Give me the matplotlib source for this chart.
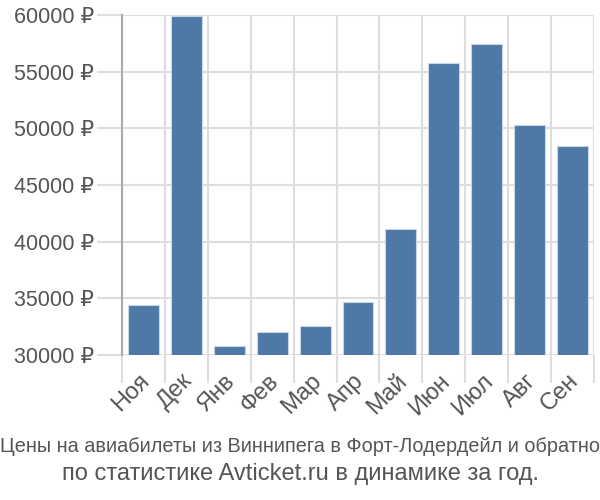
import matplotlib
matplotlib.use("Agg")
import matplotlib.pyplot as plt
import matplotlib.transforms as mtransforms
import numpy as np

months = ["Ноя", "Дек", "Янв", "Фев", "Мар", "Апр", "Май", "Июн", "Июл", "Авг", "Сен"]
prices = [34400, 59900, 30800, 32000, 32550, 34700, 41100, 55750, 57450, 50300, 48450]
yticks = [30000, 35000, 40000, 45000, 50000, 55000, 60000]
title_lines = ["Цены на авиабилеты из Виннипега в Форт-Лодердейл и обратно",
               "по статистике Avticket.ru в динамике за год."]

plt.rcParams['font.family'] = ['Liberation Sans', 'DejaVu Sans']

fig = plt.figure(figsize=(6, 5), dpi=100)
ax = fig.add_axes([122/600, 1-355/500, 472/600, 340/500])

x = np.arange(len(months))
ax.bar(x, prices, width=0.72, color="#4e79a7", edgecolor="#c8d6e6", linewidth=0.8, zorder=3)
ax.set_xlim(-0.5, len(months) - 0.5)
ax.set_ylim(30000, 60000)
ax.set_yticks(yticks)
ax.set_yticklabels([f"{v} ₽" for v in yticks], fontsize=15.5, color="#555555")
ax.set_xticks(x)
ax.set_xticklabels(months, rotation=45, ha="right", va="top", rotation_mode="anchor",
                   fontsize=17, color="#555555")
ax.set_xticks(np.arange(len(months) + 1) - 0.5, minor=True)
ax.tick_params(axis="x", which="major", length=0, pad=10)
ax.tick_params(axis="x", which="minor", length=20, color="#dddddd", width=1.5)
ax.tick_params(axis="y", length=18, color="#dddddd", width=1.5, pad=2)
ax.grid(axis="y", color="#dddddd", linewidth=1.5, zorder=0)
ax.grid(axis="x", which="minor", color="#dddddd", linewidth=1.5, zorder=0)
for s in ["top", "right", "bottom"]:
    ax.spines[s].set_visible(False)
ax.spines["left"].set_color("#aaaaaa")
ax.spines["left"].set_linewidth(1.5)

offset = mtransforms.ScaledTranslation(-5/100, -1/100, fig.dpi_scale_trans)
for lbl in ax.get_xticklabels():
    lbl.set_transform(lbl.get_transform() + offset)

fig.text(0.5, 1 - 447/500, title_lines[0], ha="center", va="center", fontsize=14.3, color="#555555")
fig.text(0.5, 1 - 474/500, title_lines[1], ha="center", va="center", fontsize=17, color="#555555")

fig.savefig("out.png", dpi=100)
